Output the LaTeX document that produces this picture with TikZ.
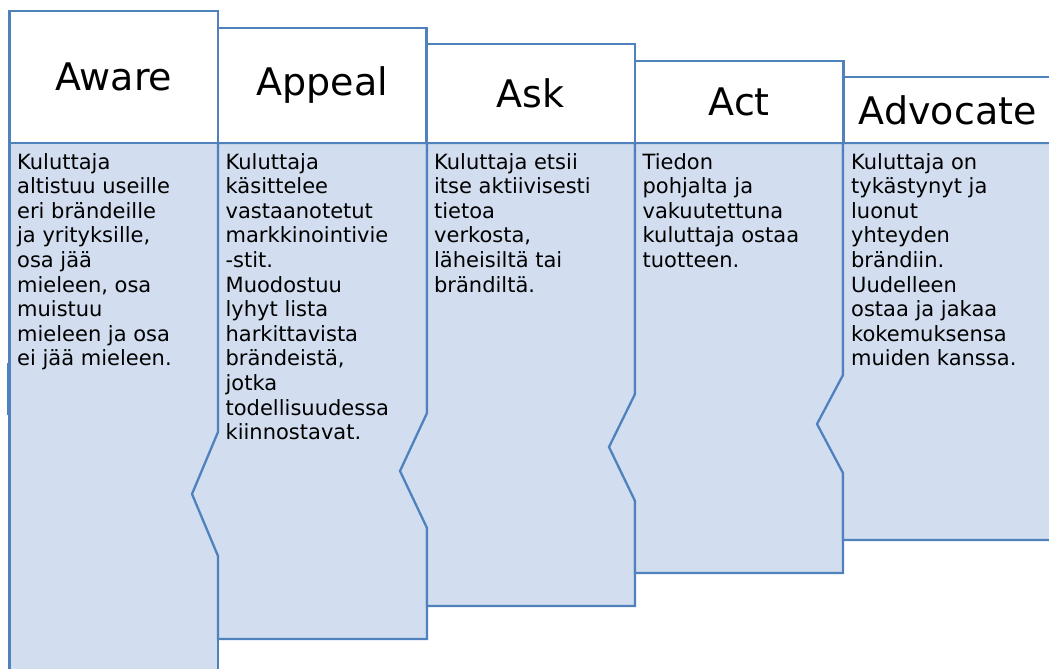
\documentclass[tikz,border=0pt]{standalone}
\usepackage{fontspec}
\setmainfont{DejaVu Sans}
\usetikzlibrary{positioning}
\definecolor{stageline}{RGB}{79,129,189}
\definecolor{stagefill}{RGB}{210,222,239}

\begin{document}
\begin{tikzpicture}[
  x=1pt, y=-1pt,
  line width=2.3pt,
  head/.style={draw=stageline, fill=white, minimum width=208.5pt,
               inner sep=0pt, outer sep=0pt, anchor=south west,
               font=\fontsize{38}{44}\selectfont},
  body/.style={draw=stageline, fill=stagefill, line join=miter},
  desc/.style={anchor=north west, inner sep=0pt, align=left,
               font=\fontsize{21}{24.6}\selectfont}
]
  \useasboundingbox (0,0) rectangle (1049,669);

  % Aware
  \draw[body] (9.5,143) -- (218,143) -- (218,685) -- (9.5,685) -- cycle;
  \draw[stageline, line width=1.4pt] (8,363) -- (8,415);
  \node[head, minimum height=132pt] (aware) at (9.5,143) {Aware};
  \node[desc] (awaretext) at ([shift={(6.5,9)}]aware.south west)
       {Kuluttaja\\altistuu useille\\eri brändeille\\ja yrityksille,\\osa jää\\mieleen, osa\\muistuu\\mieleen ja osa\\ei jää mieleen.};

  % Appeal
  \draw[body] (218,143) -- (427,143) -- (427,639) -- (218,639)
              -- (218,556) -- (192,494) -- (218,432) -- cycle;
  \node[head, minimum height=115pt] (appeal) at (aware.south east) {Appeal};
  \node[desc] (appealtext) at ([shift={(6.5,9)}]appeal.south west)
       {Kuluttaja\\käsittelee\\vastaanotetut\\markkinointivie\\-stit.\\Muodostuu\\lyhyt lista\\harkittavista\\brändeistä,\\jotka\\todellisuudessa\\kiinnostavat.};

  % Ask
  \draw[body] (427,143) -- (635,143) -- (635,606) -- (427,606)
              -- (427,528) -- (400,471) -- (427,413) -- cycle;
  \node[head, minimum height=99pt] (ask) at (appeal.south east) {Ask};
  \node[desc] (asktext) at ([shift={(6.5,9)}]ask.south west)
       {Kuluttaja etsii\\itse aktiivisesti\\tietoa\\verkosta,\\läheisiltä tai\\brändiltä.};

  % Act
  \draw[body] (635,143) -- (843,143) -- (843,573) -- (635,573)
              -- (635,501) -- (609,447) -- (635,394) -- cycle;
  \node[head, minimum height=82pt] (act) at (ask.south east) {Act};
  \node[desc] (acttext) at ([shift={(6.5,9)}]act.south west)
       {Tiedon\\pohjalta ja\\vakuutettuna\\kuluttaja ostaa\\tuotteen.};

  % Advocate
  \draw[body] (843,143) -- (1051,143) -- (1051,540) -- (843,540)
              -- (843,473) -- (817,424) -- (843,375) -- cycle;
  \node[head, minimum height=66pt] (advocate) at (act.south east) {Advocate};
  \node[desc] (advocatetext) at ([shift={(6.5,9)}]advocate.south west)
       {Kuluttaja on\\tykästynyt ja\\luonut\\yhteyden\\brändiin.\\Uudelleen\\ostaa ja jakaa\\kokemuksensa\\muiden kanssa.};
\end{tikzpicture}
\end{document}
